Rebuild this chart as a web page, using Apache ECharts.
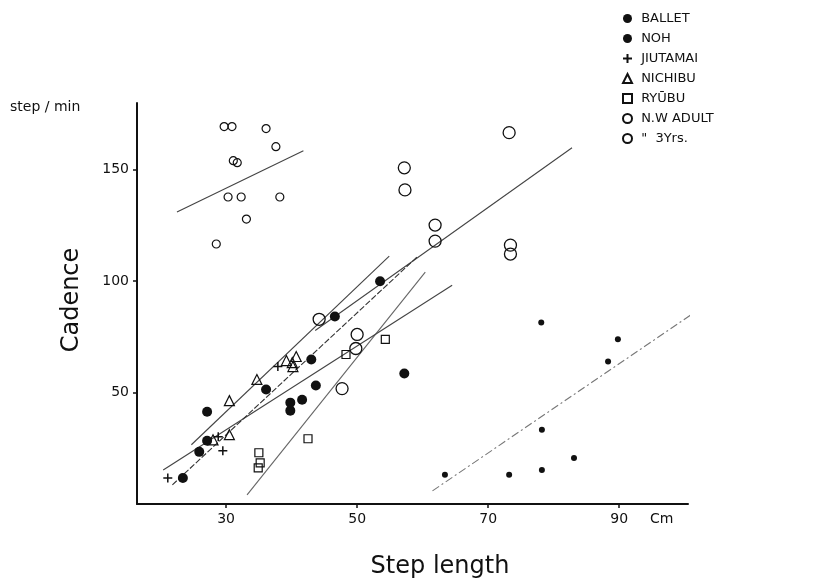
<!DOCTYPE html>
<html><head><meta charset="utf-8">
<script src="https://cdn.jsdelivr.net/npm/echarts@6/dist/echarts.min.js"></script>
<style>html,body{margin:0;padding:0;background:#fff}#c{width:823px;height:581px}</style>
</head><body><div id="c"></div>
<script>
// ---- data (step length cm, cadence step/min) ----
const xTicks = [30, 50, 70, 90];
const yTicks = [50, 100, 150];
const ballet = [[63.4,13.1],[73.2,13.1],[78.2,33.3],[78.2,15.3],[83.1,20.7],[78.1,81.5],[88.3,64],[89.8,73.9]];
const noh = [[23.4,11.7],[25.9,23.4],[27.1,28.4],[27.1,41.4],[36.1,51.4],[39.8,41.9],[39.8,45.5],[41.6,46.8],[43.7,53.2],[43.0,64.9],[46.6,84.2],[53.5,100],[57.2,58.6]];
const jiutamai = [[21.1,11.7],[29.5,23.9],[28.8,30.2],[37.9,61.7]];
const nichibu = [[30.5,31.1],[30.5,46.4],[34.7,55.9],[28.0,28.8],[39.2,64.4],[40.1,63.5],[40.2,61.7],[40.7,66.2]];
const ryubu = [[35.0,23],[35.2,18.5],[34.9,16.2],[42.5,29.3],[48.3,67.1],[54.3,73.9]];
const nwAdult = [[57.2,150.9],[57.3,141],[61.9,125.2],[61.9,118],[73.2,166.7],[73.4,116.2],[73.4,112.2],[44.2,82.9],[50,76.1],[49.8,69.8],[47.7,51.8]];
const yrs3 = [[29.7,169.4],[30.9,169.4],[36.1,168.5],[37.6,160.4],[31.1,154.1],[31.7,153.2],[30.3,137.8],[32.3,137.8],[38.2,137.8],[33.1,127.9],[28.5,116.7]];
// regression lines (endpoints)
const lineYrs3 = [[22.5,131.1],[41.8,158.6]];
const lineNW = [[43.6,77.9],[82.8,159.9]];
const lineBallet = [[61.5,5.9],[101.3,85.6]];
const lineRyubu = [[33.2,4.1],[60.4,104.1]];
const lineE = [[20.4,15.3],[64.5,98.2]];
const lineNoh = [[21.8,8.6],[59.3,111.3]];
const lineG = [[24.7,26.6],[54.9,111.3]];
const names = ['BALLET','NOH','JIUTAMAI','NICHIBU','RYŪBU','N.W ADULT','"  3Yrs.'];

const chart = echarts.init(document.getElementById('c'), null, {renderer:'canvas'});
const FONT = 'DejaVu Sans';
function sc(name, data, symbol, size, filled, bw){
  return {type:'scatter', name, data, symbol, symbolSize:size, z:5,
    itemStyle: filled ? {color:'#111', opacity:1} : {color:'rgba(255,255,255,0)', borderColor:'#111', borderWidth:bw||1.2, opacity:1}};
}
function ln(data, type, color){
  return {type:'line', data, symbol:'none', silent:true, clip:false, z:3,
    lineStyle:{color:color||'#444', width:1.1, type: type||'solid'}};
}
const legendIcons = ['circle','circle','path://M5,0L5,10M0,5L10,5','triangle','rect','circle','circle'];
const option = {
  animation:false,
  grid:{left:137, right:135, top:103, bottom:77},
  legend:{orient:'vertical', left:617, top:7, itemGap:7, itemWidth:9, itemHeight:9,
    data:names.map((n,i)=>({name:n, icon:legendIcons[i]})),
    formatter: n => ' ' + n,
    textStyle:{fontFamily:FONT, fontSize:13, color:'#111'}, inactiveColor:'#111'},
  xAxis:{type:'value', min:16.4, max:100.5,
    axisLine:{lineStyle:{color:'#111', width:2}},
    axisTick:{customValues:xTicks, length:4, lineStyle:{color:'#111', width:1.5}},
    axisLabel:{customValues:xTicks, color:'#111', fontSize:14, fontFamily:FONT, margin:8},
    splitLine:{show:false}},
  yAxis:{type:'value', min:0, max:180,
    axisLine:{show:true, lineStyle:{color:'#111', width:2}},
    axisTick:{show:true, customValues:yTicks, length:4, lineStyle:{color:'#111', width:1.5}},
    axisLabel:{customValues:yTicks, color:'#111', fontSize:14, fontFamily:FONT, margin:8},
    splitLine:{show:false}},
  graphic:[
    {type:'text', left:10, top:100, style:{text:'step / min', font:'14px "DejaVu Sans"', fill:'#111'}},
    {type:'text', left:650, top:512, style:{text:'Cm', font:'14px "DejaVu Sans"', fill:'#111'}},
    {type:'text', x:72, y:300, rotation:Math.PI/2, style:{text:'Cadence', font:'24px "DejaVu Sans"', fill:'#111', align:'center', verticalAlign:'middle'}},
    {type:'text', x:440, y:567, style:{text:'Step length', font:'24px "DejaVu Sans"', fill:'#111', align:'center', verticalAlign:'middle'}}
  ],
  series:[
    ln(lineYrs3), ln(lineNW), ln(lineBallet, [8,3,2,3], '#777'), ln(lineRyubu, 'solid', '#666'), ln(lineE), ln(lineNoh, [6,2], '#333'), ln(lineG),
    sc(names[0], ballet, 'circle', 6, true),
    sc(names[1], noh, 'circle', 10, true),
    sc(names[2], jiutamai, 'path://M5,0L5,10M0,5L10,5', 9, false, 1.5),
    sc(names[3], nichibu, 'triangle', 10, false, 1.2),
    sc(names[4], ryubu, 'rect', 8, false, 1.2),
    sc(names[5], nwAdult, 'circle', 12, false, 1.3),
    sc(names[6], yrs3, 'circle', 8, false, 1.2)
  ]
};
chart.setOption(option);
</script></body></html>
